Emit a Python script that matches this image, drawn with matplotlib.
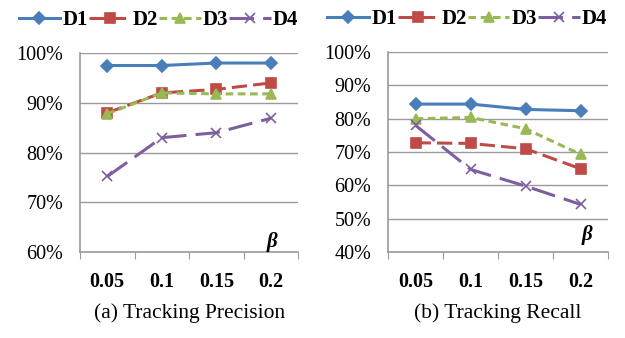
import matplotlib
matplotlib.use('Agg')
import matplotlib.pyplot as plt
from matplotlib.ticker import FixedLocator

plt.rcParams['font.family'] = ['Liberation Serif', 'DejaVu Serif']

betas = ['0.05', '0.1', '0.15', '0.2']
series_names = ['D1', 'D2', 'D3', 'D4']

precision_d1 = [97.5, 97.5, 98.0, 98.0]
precision_d2 = [88.0, 92.0, 92.7, 94.0]
precision_d3 = [87.8, 92.0, 91.8, 91.8]
precision_d4 = [75.2, 83.0, 84.0, 86.9]

recall_d1 = [84.4, 84.4, 82.8, 82.4]
recall_d2 = [72.8, 72.6, 71.0, 65.0]
recall_d3 = [80.0, 80.4, 77.0, 69.3]
recall_d4 = [78.0, 64.8, 59.8, 54.3]

colors = ['#4A7EBB', '#BE4B48', '#98B954', '#7D5FA0']
markers = ['D', 's', '^', 'x']
styles = ['-', (0, (5, 2)), (0, (2.5, 1.5)), (0, (8, 3))]
sizes = [6, 7, 7, 7]


def draw(ax, data, ylo, caption, beta_x, beta_y):
    xs = [i + 0.5 for i in range(len(betas))]
    for k, vals in enumerate(data):
        ax.plot(xs, vals, color=colors[k], marker=markers[k], linestyle=styles[k],
                linewidth=2.2, markersize=sizes[k], markeredgewidth=1.2,
                label=series_names[k])
    ax.set_xlim(0, 4)
    ax.set_ylim(ylo, 100)
    ax.set_yticks(range(ylo, 101, 10))
    ax.set_yticklabels([f'{v}%' for v in range(ylo, 101, 10)], fontsize=14.5)
    ax.yaxis.grid(True, color='#9A9A9A', linewidth=1)
    ax.set_axisbelow(True)
    ax.tick_params(axis='y', length=0, pad=12)
    ax.xaxis.set_major_locator(FixedLocator(range(5)))
    ax.set_xticklabels([])
    ax.set_xticks(xs, minor=True)
    ax.set_xticklabels(betas, minor=True, fontsize=14.5, fontweight='bold')
    ax.tick_params(axis='x', which='major', length=5, color='#9A9A9A', direction='out')
    ax.tick_params(axis='x', which='minor', length=0, pad=14)
    for side in ['top', 'right']:
        ax.spines[side].set_visible(False)
    for side in ['left', 'bottom']:
        ax.spines[side].set_color('#9A9A9A')
        ax.spines[side].set_linewidth(1.2)
    ax.text(beta_x, beta_y, 'β', fontsize=15, fontweight='bold', style='italic',
            ha='center', va='center')
    ax.text(0.5, -0.306, caption, transform=ax.transAxes, ha='center', va='center',
            fontsize=15.5)
    ax.legend(loc='center', bbox_to_anchor=(0.36, 1.166), ncol=4, frameon=False,
              handlelength=2.0, handletextpad=0.1, columnspacing=0.05,
              borderaxespad=0, borderpad=0, prop={'weight': 'bold', 'size': 15})


fig = plt.figure(figsize=(6.25, 3.38), dpi=100)
ax1 = fig.add_axes([0.128, 0.254, 0.349, 0.589])
ax2 = fig.add_axes([0.621, 0.254, 0.352, 0.592])

draw(ax1, [precision_d1, precision_d2, precision_d3, precision_d4], 60,
     '(a) Tracking Precision', 3.52, 62.0)
draw(ax2, [recall_d1, recall_d2, recall_d3, recall_d4], 40,
     '(b) Tracking Recall', 3.62, 45.0)

fig.savefig('out.png', dpi=100)
